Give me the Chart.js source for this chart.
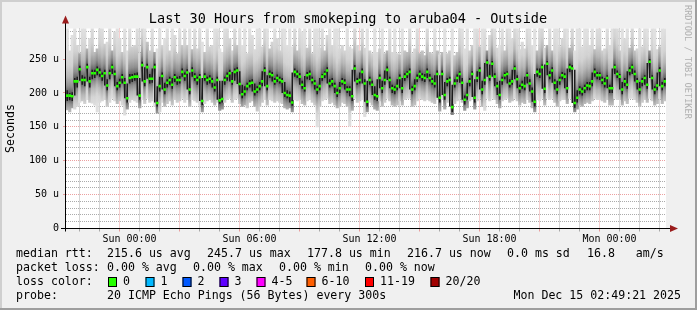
<!DOCTYPE html>
<html><head><meta charset="utf-8">
<script src="https://cdn.jsdelivr.net/npm/chart.js@4.4.1/dist/chart.umd.min.js"></script>
<style>html,body{margin:0;padding:0;background:#f0f0f0}canvas{display:block}</style>
</head><body>
<canvas id="c" width="697" height="310"></canvas>
<script>
// ---------- data ----------
const titleText = "Last 30 Hours from smokeping to aruba04 - Outside";
const yAxisTitle = "Seconds";
const watermark = "RRDTOOL / TOBI OETIKER";
const binMinutes = 7.5;           // one value per 7.5 minutes, 240 values = 30 h
const totalMinutes = 1800;
const startMinuteOfDay = 20 * 60 + 49 + 21 / 60;   // Sat 20:49:21

// median rtt (microseconds)
const median = [
196,196,195,217,217,235,219,219,238,217,229,229,234,230,225,229,211,229,238,228,
210,215,223,215,192,222,223,224,224,196,241,217,238,221,221,238,185,210,225,205,
215,219,212,223,219,219,231,225,230,205,233,224,219,223,188,224,219,221,217,208,
219,189,191,219,225,229,217,231,233,213,198,202,210,214,215,202,205,210,217,233,
210,228,226,217,222,219,217,200,197,196,186,231,228,224,212,207,226,228,219,214,
205,210,224,228,233,214,217,210,200,207,217,215,205,205,195,236,217,219,231,214,
187,219,212,197,195,222,207,219,234,219,207,205,210,222,207,224,228,231,205,210,
222,228,224,222,231,222,217,214,228,193,228,197,217,219,179,214,222,228,215,190,
197,217,228,193,222,233,205,219,245,224,243,224,210,197,219,226,228,214,217,236,
220,207,212,210,226,214,202,187,231,228,238,206,243,226,233,215,205,219,226,224,
207,238,236,185,193,205,202,207,211,210,217,231,226,226,219,214,222,207,207,238,
228,224,205,217,212,233,238,228,217,205,217,222,212,246,222,205,211,233,210,217];

// smoke: lowest and highest of the 20 pings
const smokeHi = [
300,262,285,300,270,258,300,300,265,280,300,260,265,300,300,272,275,300,262,290,
300,280,260,300,262,300,268,270,300,258,300,300,275,262,300,260,265,300,270,280,
300,262,300,285,258,300,270,300,270,300,264,300,265,300,275,260,300,268,270,300,
300,265,260,300,300,280,262,300,270,300,270,300,258,300,285,264,300,300,268,300,
300,265,275,300,280,262,300,300,270,300,268,300,262,300,290,300,266,300,258,300,
300,266,300,262,285,300,270,300,300,265,270,262,300,268,265,300,270,262,300,266,
300,262,258,300,260,265,300,258,262,300,260,300,258,256,300,262,260,300,258,265,
300,258,262,255,300,260,258,300,262,256,260,300,258,262,300,255,260,300,300,265,
300,262,270,300,300,268,300,300,262,285,300,300,266,270,300,262,300,300,280,300,
300,264,275,265,300,300,270,300,262,300,300,266,270,300,262,300,300,268,280,300,
300,266,300,262,300,300,268,300,300,270,300,264,300,300,262,265,300,270,300,300,
300,262,300,280,300,266,300,262,265,300,268,300,300,262,300,300,264,268,300,300];
const smokeLo = [
175,172,178,176,180,186,188,184,190,186,185,182,172,186,188,190,180,186,192,188,
184,188,182,167,176,186,190,188,186,178,190,184,192,186,188,180,170,172,186,180,
184,188,182,190,186,188,192,186,190,180,190,188,186,182,172,184,188,190,186,182,
186,174,176,186,190,192,186,190,192,184,180,182,178,186,188,180,173,180,186,190,
182,190,188,186,188,186,184,178,176,178,172,190,188,190,184,182,188,190,186,182,
150,180,188,190,192,184,186,182,178,180,186,184,180,151,174,192,186,188,190,165,
172,186,182,176,174,188,180,186,192,188,182,180,182,188,182,190,192,192,180,182,
188,192,190,188,190,188,186,184,190,173,190,176,186,188,168,184,188,192,186,174,
178,188,190,176,188,192,180,174,192,188,192,190,184,178,188,190,192,186,188,192,
188,182,186,184,190,186,178,172,190,188,192,182,192,190,192,186,180,188,190,190,
184,192,192,172,176,182,180,184,186,184,188,192,190,190,188,186,190,182,182,192,
190,190,182,188,184,192,192,190,186,180,186,190,186,192,188,182,184,192,184,188];

// darkest smoke (pings nearest the median)
const coreHi = [
204,200,201,222,224,240,226,224,243,224,234,234,239,236,230,234,220,234,242,233,
216,221,228,222,214,228,228,229,230,222,246,238,243,228,236,243,210,224,230,215,
220,224,222,228,224,225,236,230,235,230,238,229,224,228,222,229,224,226,222,214,
224,218,218,224,230,234,231,236,238,232,212,210,215,219,220,214,210,216,232,238,
226,233,231,222,227,224,222,216,204,202,230,236,233,229,218,225,231,233,224,219,
210,222,228,232,238,220,222,215,206,216,222,220,210,210,234,241,222,230,236,220,
218,224,218,210,220,227,218,233,239,224,212,210,220,227,222,229,232,236,210,220,
227,233,229,228,236,228,222,226,233,226,233,216,222,224,212,220,227,232,222,196,
215,222,232,220,232,238,218,244,249,242,247,229,216,218,224,230,232,220,234,240,
226,212,218,224,230,220,208,228,236,236,242,242,247,232,238,220,218,224,231,229,
236,243,241,234,204,210,208,212,216,216,230,236,231,230,224,222,226,212,236,242,
233,228,216,222,232,238,242,233,222,216,222,226,244,250,226,210,230,238,216,222];
const coreLo = [
188,189,188,196,208,218,212,210,217,208,220,222,226,224,218,211,204,220,228,210,
204,208,214,192,186,214,216,218,196,190,217,210,221,214,215,186,180,202,205,198,
208,212,206,216,212,214,224,218,205,198,224,218,212,188,182,218,212,214,208,202,
190,184,186,212,218,217,212,218,213,198,192,196,204,208,202,196,200,204,210,210,
204,222,217,212,216,214,200,194,192,186,181,224,222,212,206,202,220,219,214,205,
198,204,218,222,214,208,210,200,194,200,212,205,200,195,188,217,212,214,214,187,
180,212,197,190,188,207,200,212,219,207,200,198,204,207,200,218,222,205,198,204,
216,222,218,216,222,217,212,208,193,186,197,190,210,180,172,208,216,215,190,183,
190,210,194,186,216,205,198,212,224,218,224,210,197,190,212,220,214,208,212,220,
207,200,206,204,214,202,187,180,224,222,206,200,226,220,215,205,198,212,220,207,
200,231,185,178,186,198,196,200,204,204,210,224,220,219,213,208,207,200,200,228,
222,205,198,210,206,226,228,217,205,198,210,212,206,222,205,198,204,210,204,210];

const yTickValues = [0, 50, 100, 150, 200, 250];
const yTickLabels = ["0", "50 u", "100 u", "150 u", "200 u", "250 u"];
const timeLabels = ["Sun 00:00", "Sun 06:00", "Sun 12:00", "Sun 18:00", "Mon 00:00"];
const timeLabelHoursFromStartHour = [3, 9, 15, 21, 27];   // hours after Sat 21:00

const rttLegend = ["median rtt:", "215.6 us avg", "245.7 us max", "177.8 us min", "216.7 us now", "0.0 ms sd", "16.8   am/s"];
const lossLegend = ["packet loss:", "0.00 % avg", "0.00 % max", "0.00 % min", "0.00 % now"];
const lossColorTitle = "loss color:";
const lossColorLabels = ["0", "1", "2", "3", "4-5", "6-10", "11-19", "20/20"];
const probeLegend = ["probe:", "20 ICMP Echo Pings (56 Bytes) every 300s"];
const timestamp = "Mon Dec 15 02:49:21 2025";

// ---------- styles / layout ----------
const lossColors = ["#26ff00", "#00b8ff", "#0059ff", "#5e00ff", "#ff00ff", "#ff5e00", "#ff0000", "#a10000"];
const FONT = "'DejaVu Sans Mono', monospace";
const MAJOR = 'rgba(228,120,120,0.7)';
const MINOR = 'rgba(150,150,150,0.8)';

const xs = median.map((_, i) => (i + 0.5) * binMinutes);
const firstHour = 60 - (startMinuteOfDay % 60);
const hourTicks = [];
for (let t = firstHour; t <= totalMinutes; t += 60) hourTicks.push(t);
const hourOf = v => Math.round((startMinuteOfDay + v) / 60) % 24;
const labelMinutes = timeLabelHoursFromStartHour.map(h => firstHour + 60 * h);
const yMinorTicks = [];
for (let v = 0; v <= 290; v += 10) yMinorTicks.push(v);

const toBars = (lo, hi) => lo.map((v, i) => ({x: xs[i], y: [v, hi[i]]}));

const SHADES = [[75,'#e0e0e0'],[45,'#d2d2d2'],[28,'#b6b6b6'],[14,'#8e8e8e'],[5,'#606060'],[0,'#4a4a4a'],[-5,'#606060'],[-12,'#8e8e8e'],[-22,'#b6b6b6'],[-35,'#d4d4d4'],[-50,'#e0e0e0']];
function smokeFill(ctx) {
  const ch = ctx.chart, ys = ch.scales && ch.scales.y;
  if (ctx.type !== 'data' || !ys) return '#cccccc';
  const m = median[ctx.dataIndex];
  const top = ys.getPixelForValue(m + 75), bot = ys.getPixelForValue(m - 50);
  if (!isFinite(top) || !isFinite(bot) || top === bot) return '#cccccc';
  const g = ch.ctx.createLinearGradient(0, top, 0, bot);
  SHADES.forEach(([o, c]) => g.addColorStop((75 - o) / 125, c));
  return g;
}
const isMajorX = c => !!(c.tick && hourOf(c.tick.value) % 3 === 0);
const isMajorY = c => !!(c.tick && c.tick.value % 50 === 0);

const deco = {
  id: 'deco',
  beforeDraw(chart) {
    const c = chart.ctx, a = chart.chartArea, W = chart.width, H = chart.height;
    c.save();
    c.fillStyle = '#f0f0f0'; c.fillRect(0, 0, W, H);
    c.fillStyle = '#cfcfcf'; c.fillRect(0, 0, W, 2); c.fillRect(0, 0, 2, H);
    c.fillStyle = '#9e9e9e'; c.fillRect(0, H - 2, W, 2); c.fillRect(W - 2, 0, 2, H);
    c.fillStyle = '#ffffff'; c.fillRect(a.left, a.top, a.right - a.left, a.bottom - a.top);
    c.restore();
  },
  afterDraw(chart) {
    const c = chart.ctx, a = chart.chartArea;
    c.save();
    // axes
    c.fillStyle = '#000';
    const ax = Math.round(a.left) - 1, ay = Math.round(a.bottom) - 1;
    c.fillRect(ax - 4, ay, a.right - a.left + 9, 1);
    c.fillRect(ax, a.top - 6, 1, a.bottom - a.top + 9);
    c.fillStyle = '#9a1c1c';
    c.beginPath(); c.moveTo(ax + 0.5, a.top - 13); c.lineTo(ax - 3, a.top - 5); c.lineTo(ax + 4, a.top - 5); c.closePath(); c.fill();
    const ex = a.right + 4;
    c.beginPath(); c.moveTo(ex + 8, ay + 0.5); c.lineTo(ex, ay - 3); c.lineTo(ex, ay + 4); c.closePath(); c.fill();
    // title
    c.fillStyle = '#000';
    c.font = '13.5px ' + FONT; c.textAlign = 'center'; c.textBaseline = 'middle';
    c.fillText(titleText, 348, 19);
    // legend
    c.font = '11.6px ' + FONT; c.textAlign = 'left';
    const rows = [254, 268, 282, 296];
    const rttX = [16, 107, 207, 307, 407, 507, 587];
    rttLegend.forEach((s, i) => c.fillText(s, rttX[i], rows[0]));
    const lossX = [16, 107, 193, 279, 365];
    lossLegend.forEach((s, i) => c.fillText(s, lossX[i], rows[1]));
    c.fillText(lossColorTitle, 16, rows[2]);
    const boxX = [108, 145.5, 182.5, 219.5, 256.5, 306.5, 365, 430.5];
    lossColorLabels.forEach((s, i) => {
      c.fillStyle = lossColors[i]; c.fillRect(boxX[i], rows[2] - 5, 9, 10);
      c.strokeStyle = '#000'; c.lineWidth = 1; c.strokeRect(boxX[i] + 0.5, rows[2] - 4.5, 8, 9);
      c.fillStyle = '#000'; c.fillText(s, boxX[i] + 15, rows[2]);
    });
    c.fillText(probeLegend[0], 16, rows[3]);
    c.fillText(probeLegend[1], 107, rows[3]);
    c.textAlign = 'right'; c.fillText(timestamp, 681, rows[3]);
    // watermark
    c.fillStyle = '#b0b0b0'; c.font = '8.6px ' + FONT; c.textAlign = 'left';
    c.translate(687, 5); c.rotate(Math.PI / 2); c.fillText(watermark, 0, 0);
    c.restore();
  }
};

new Chart(document.getElementById('c'), {
  type: 'bar',
  data: {
    datasets: [
      {type: 'line', label: 'median', data: median.map((v, i) => ({x: xs[i], y: v})), showLine: false,
       pointStyle: 'rect', pointRadius: 1.8, pointHoverRadius: 1.8, pointBorderWidth: 0,
       pointBackgroundColor: '#26ff00', order: 1},
      {type: 'bar', label: 'core', data: toBars(coreLo, coreHi), backgroundColor: '#1c1c1c',
       barPercentage: 0.6, categoryPercentage: 1, grouped: false, order: 2},
      {type: 'bar', label: 'smoke', data: toBars(smokeLo, smokeHi), backgroundColor: smokeFill,
       barPercentage: 1, categoryPercentage: 1, grouped: false, order: 3}
    ]
  },
  options: {
    responsive: false, animation: false, devicePixelRatio: 1,
    events: [],
    layout: {padding: {left: 0, right: 31, top: 28.5, bottom: 61.5}},
    plugins: {legend: {display: false}, title: {display: false}, tooltip: {enabled: false}},
    scales: {
      x: {
        type: 'linear', min: 0, max: totalMinutes, offset: false, z: 1,
        afterBuildTicks: s => { s.ticks = hourTicks.map(v => ({value: v})); },
        afterFit: s => { s.height = 20; },
        ticks: {autoSkip: false, maxRotation: 0, padding: 2, color: '#000', font: {family: FONT, size: 10},
          callback: v => { const i = labelMinutes.findIndex(t => Math.abs(t - v) < 0.01); return i >= 0 ? timeLabels[i] : ''; }},
        grid: {color: c => (isMajorX(c) ? MAJOR : MINOR),
               tickColor: c => (isMajorX(c) ? MAJOR : MINOR), tickLength: 3, lineWidth: 1},
        border: {display: false, dash: [1, 1]}
      },
      y: {
        type: 'linear', min: 0, max: 295, z: 1,
        afterBuildTicks: s => { s.ticks = yMinorTicks.map(v => ({value: v})); },
        afterFit: s => { s.width = 66; },
        ticks: {autoSkip: false, padding: 4, color: '#000', font: {family: FONT, size: 10},
          callback: v => { const i = yTickValues.indexOf(v); return i >= 0 ? yTickLabels[i] : ''; }},
        grid: {color: c => (isMajorY(c) ? MAJOR : MINOR),
               tickColor: c => (isMajorY(c) ? MAJOR : 'rgba(0,0,0,0)'), tickLength: 3, lineWidth: 1},
        border: {display: false, dash: [1, 1]},
        title: {display: true, text: yAxisTitle, color: '#000', font: {family: FONT, size: 11.6}, padding: {top: 4, bottom: 0}}
      }
    }
  },
  plugins: [deco]
});
</script>
</body></html>
